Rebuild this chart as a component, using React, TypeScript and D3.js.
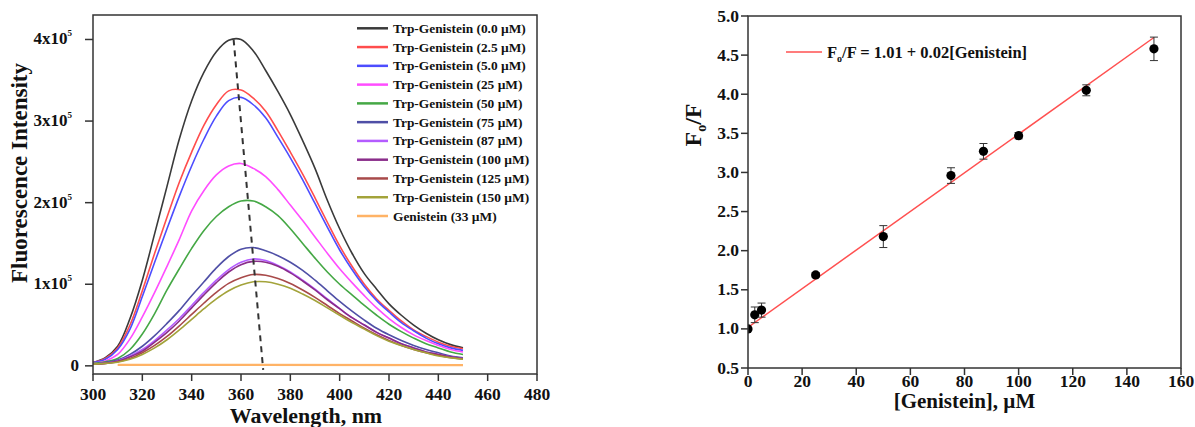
import React from 'react';
import * as d3 from 'd3';

// wavelength grid of the emission spectra (nm)
const WAVELENGTH = [300, 305, 310, 315, 320, 325, 330, 335, 340, 345, 350, 355, 360, 365, 370, 375,
  380, 385, 390, 395, 400, 405, 410, 415, 420, 425, 430, 435, 440, 445, 450];

// fluorescence intensity, in units of 10^5
const TRP_0 = [0.04, 0.1, 0.24, 0.58, 1.05, 1.62, 2.2, 2.78, 3.25, 3.6, 3.85, 3.99, 4.0, 3.86, 3.62, 3.36,
  3.08, 2.76, 2.42, 2.03, 1.68, 1.38, 1.13, 0.94, 0.76, 0.62, 0.5, 0.4, 0.32, 0.26, 0.22];
const TRP_2_5 = [0.04, 0.09, 0.22, 0.5, 0.92, 1.38, 1.82, 2.25, 2.62, 2.95, 3.2, 3.37, 3.38, 3.28, 3.12, 2.88,
  2.62, 2.35, 2.06, 1.76, 1.47, 1.22, 1.0, 0.82, 0.68, 0.55, 0.44, 0.36, 0.29, 0.24, 0.21];
const TRP_5 = [0.04, 0.08, 0.2, 0.45, 0.85, 1.27, 1.68, 2.08, 2.45, 2.78, 3.06, 3.25, 3.29, 3.2, 3.04, 2.8,
  2.55, 2.28, 1.99, 1.7, 1.42, 1.18, 0.97, 0.8, 0.66, 0.53, 0.43, 0.34, 0.27, 0.22, 0.19];
const TRP_25 = [0.03, 0.06, 0.14, 0.33, 0.6, 0.9, 1.22, 1.55, 1.9, 2.15, 2.34, 2.45, 2.48, 2.42, 2.32, 2.16,
  1.97, 1.78, 1.58, 1.38, 1.19, 1.02, 0.86, 0.71, 0.58, 0.47, 0.38, 0.31, 0.25, 0.2, 0.17];
const TRP_50 = [0.03, 0.05, 0.09, 0.2, 0.39, 0.64, 0.93, 1.19, 1.44, 1.66, 1.83, 1.95, 2.02, 2.02, 1.95, 1.84,
  1.68, 1.5, 1.32, 1.15, 1.0, 0.87, 0.74, 0.62, 0.51, 0.42, 0.34, 0.27, 0.22, 0.17, 0.14];
const TRP_75 = [0.02, 0.04, 0.07, 0.14, 0.24, 0.37, 0.52, 0.68, 0.86, 1.03, 1.2, 1.34, 1.43, 1.45, 1.41, 1.35,
  1.27, 1.17, 1.05, 0.92, 0.79, 0.67, 0.56, 0.46, 0.38, 0.31, 0.25, 0.2, 0.16, 0.12, 0.1];
const TRP_87 = [0.02, 0.035, 0.06, 0.12, 0.2, 0.31, 0.44, 0.58, 0.74, 0.9, 1.05, 1.18, 1.27, 1.31, 1.29, 1.23,
  1.15, 1.05, 0.94, 0.82, 0.7, 0.59, 0.5, 0.41, 0.34, 0.27, 0.22, 0.17, 0.14, 0.11, 0.09];
const TRP_100 = [0.02, 0.03, 0.055, 0.11, 0.18, 0.29, 0.41, 0.55, 0.71, 0.87, 1.02, 1.15, 1.24, 1.28, 1.27, 1.22,
  1.14, 1.04, 0.93, 0.81, 0.7, 0.59, 0.5, 0.41, 0.34, 0.27, 0.22, 0.17, 0.14, 0.11, 0.09];
const TRP_125 = [0.02, 0.03, 0.05, 0.09, 0.16, 0.25, 0.36, 0.49, 0.63, 0.77, 0.9, 1.01, 1.08, 1.12, 1.11, 1.07,
  1.01, 0.93, 0.84, 0.74, 0.64, 0.55, 0.46, 0.38, 0.31, 0.25, 0.2, 0.16, 0.13, 0.1, 0.085];
const TRP_150 = [0.02, 0.03, 0.045, 0.08, 0.14, 0.22, 0.32, 0.44, 0.57, 0.7, 0.82, 0.92, 0.99, 1.03, 1.03, 1.0,
  0.95, 0.88, 0.8, 0.71, 0.62, 0.53, 0.45, 0.37, 0.3, 0.25, 0.2, 0.16, 0.12, 0.1, 0.08];

// genistein alone, flat near zero
const GENISTEIN_WL = [310, 450];
const GENISTEIN_33 = [0.012, 0.01];

// dashed guide through the emission maxima
const PEAK_WL = [357, 369];
const PEAK_I = [4.0, -0.05];

const SPECTRA = [TRP_0, TRP_2_5, TRP_5, TRP_25, TRP_50, TRP_75, TRP_87, TRP_100, TRP_125, TRP_150];
const LEGEND_LABELS = [
  'Trp-Genistein (0.0 µM)', 'Trp-Genistein (2.5 µM)', 'Trp-Genistein (5.0 µM)', 'Trp-Genistein (25 µM)',
  'Trp-Genistein (50 µM)', 'Trp-Genistein (75 µM)', 'Trp-Genistein (87 µM)', 'Trp-Genistein (100 µM)',
  'Trp-Genistein (125 µM)', 'Trp-Genistein (150 µM)', 'Genistein (33 µM)',
];
const COLORS = ['#3a3a3a', '#ff4d4d', '#4d4dff', '#ff4dff', '#45a845', '#4f4fa6', '#b45cff', '#8a2d8a',
  '#a84a4a', '#a3a33a', '#ffb366'];

const WL_TICKS = [300, 320, 340, 360, 380, 400, 420, 440, 460, 480];
const INT_TICKS = [0, 1, 2, 3, 4];

// Stern-Volmer plot
const CONC = [0, 2.5, 5, 25, 50, 75, 87, 100, 125, 150];
const RATIO = [1.0, 1.18, 1.24, 1.69, 2.18, 2.96, 3.27, 3.47, 4.05, 4.58];
const RATIO_ERR = [0.0, 0.1, 0.09, 0.03, 0.14, 0.1, 0.1, 0.04, 0.07, 0.15];
const FIT_INTERCEPT = 1.02;
const FIT_SLOPE = 0.0247;
const FIT_RANGE = [0, 150];
const CONC_TICKS = [0, 20, 40, 60, 80, 100, 120, 140, 160];
const RATIO_TICKS = [0.5, 1.0, 1.5, 2.0, 2.5, 3.0, 3.5, 4.0, 4.5, 5.0];

const FONT = '"Liberation Serif", "Times New Roman", serif';
const AXIS = '#333';

// text that is a little wider than the font, like the scanned figure
const Wide = ({ x, y, k = 1.1, children, ...rest }: any) => (
  <text transform={`translate(${x},${y}) scale(${k},1)`} {...rest}>{children}</text>
);

const SpectraChart = () => {
  const left = 93, right = 537, top = 15, bottom = 374;
  const x = d3.scaleLinear().domain([300, 480]).range([left, right]);
  const y = d3.scaleLinear().domain([-0.1, 4.3]).range([bottom, top]);

  const line = d3.line<number>()
    .x((d, i) => x(WAVELENGTH[i]))
    .y((d) => y(d))
    .curve(d3.curveCatmullRom);

  const genLine = d3.line<number>()
    .x((d, i) => x(GENISTEIN_WL[i]))
    .y((d) => y(d))(GENISTEIN_33);

  const peakLine = d3.line<number>()
    .x((d, i) => x(PEAK_WL[i]))
    .y((d) => y(d))(PEAK_I);

  return (
    <g>
      <defs>
        <clipPath id="clipL">
          <rect x={left} y={top} width={right - left} height={bottom - top} />
        </clipPath>
      </defs>
      <g clipPath="url(#clipL)">
        {SPECTRA.map((s, i) => (
          <path key={i} d={line(s) || ''} fill="none" stroke={COLORS[i]} strokeWidth={1.6} />
        ))}
        <path d={genLine || ''} fill="none" stroke={COLORS[10]} strokeWidth={2.2} />
        <path d={peakLine || ''} fill="none" stroke="#333" strokeWidth={2} strokeDasharray="6,5" />
      </g>
      <rect x={left} y={top} width={right - left} height={bottom - top} fill="none" stroke={AXIS} strokeWidth={1.5} />
      {/* x axis */}
      {WL_TICKS.map((t) => (
        <g key={t}>
          <line x1={x(t)} x2={x(t)} y1={bottom} y2={bottom + 7} stroke={AXIS} strokeWidth={1.5} />
          <text x={x(t)} y={bottom + 26} textAnchor="middle" fontSize={17.5}>{t}</text>
        </g>
      ))}
      {/* y axis */}
      {INT_TICKS.map((t) => (
        <g key={t}>
          <line x1={left - 8} x2={left} y1={y(t)} y2={y(t)} stroke={AXIS} strokeWidth={1.5} />
          {t === 0 ? (
            <text x={left - 14} y={y(t) + 5} textAnchor="end" fontSize={17}>0</text>
          ) : (
            <text x={left - 21} y={y(t) + 5} textAnchor="end" fontSize={17}>
              {`${t}x10`}
              <tspan fontSize={9} dy={-8}>5</tspan>
            </text>
          )}
        </g>
      ))}
      <Wide x={306} y={423} k={1.07} textAnchor="middle" fontSize={20.5}>Wavelength, nm</Wide>
      <text transform="translate(27,173) rotate(-90)" textAnchor="middle" fontSize={23}>Fluorescence Intensity</text>
      {/* legend */}
      {LEGEND_LABELS.map((lab, i) => {
        const ly = 28.3 + i * 18.77;
        return (
          <g key={lab}>
            <line x1={357} x2={388} y1={ly} y2={ly} stroke={COLORS[i]} strokeWidth={2.5} />
            <text x={393} y={ly + 4.5} fontSize={13.4}>{lab}</text>
          </g>
        );
      })}
    </g>
  );
};

const SternVolmerChart = () => {
  const left = 748, right = 1181, top = 16, bottom = 368;
  const x = d3.scaleLinear().domain([0, 160]).range([left, right]);
  const y = d3.scaleLinear().domain([0.5, 5.0]).range([bottom, top]);

  const fit = d3.line<number>()
    .x((d) => x(d))
    .y((d) => y(FIT_INTERCEPT + FIT_SLOPE * d))(FIT_RANGE);

  return (
    <g>
      <defs>
        <clipPath id="clipR">
          <rect x={left} y={top} width={right - left} height={bottom - top} />
        </clipPath>
      </defs>
      <g clipPath="url(#clipR)">
        <path d={fit || ''} fill="none" stroke="#ff5050" strokeWidth={1.5} />
        {CONC.map((c, i) => (
          <g key={c}>
            {RATIO_ERR[i] > 0 && (
              <g stroke="#333" strokeWidth={1}>
                <line x1={x(c)} x2={x(c)} y1={y(RATIO[i] - RATIO_ERR[i])} y2={y(RATIO[i] + RATIO_ERR[i])} />
                <line x1={x(c) - 4} x2={x(c) + 4} y1={y(RATIO[i] - RATIO_ERR[i])} y2={y(RATIO[i] - RATIO_ERR[i])} />
                <line x1={x(c) - 4} x2={x(c) + 4} y1={y(RATIO[i] + RATIO_ERR[i])} y2={y(RATIO[i] + RATIO_ERR[i])} />
              </g>
            )}
            <circle cx={x(c)} cy={y(RATIO[i])} r={4.6} fill="#000" />
          </g>
        ))}
      </g>
      <rect x={left} y={top} width={right - left} height={bottom - top} fill="none" stroke={AXIS} strokeWidth={1.5} />
      {CONC_TICKS.map((t) => (
        <g key={t}>
          <line x1={x(t)} x2={x(t)} y1={bottom} y2={bottom + 7} stroke={AXIS} strokeWidth={1.5} />
          <text x={x(t)} y={bottom + 19} textAnchor="middle" fontSize={17.5}>{t}</text>
        </g>
      ))}
      {RATIO_TICKS.map((t) => (
        <g key={t}>
          <line x1={left - 7} x2={left} y1={y(t)} y2={y(t)} stroke={AXIS} strokeWidth={1.5} />
          <text x={left - 9} y={y(t) + 5.5} textAnchor="end" fontSize={17.5}>{t.toFixed(1)}</text>
        </g>
      ))}
      <text x={(left + right) / 2} y={408} textAnchor="middle" fontSize={21}>[Genistein], µM</text>
      <text transform="translate(701,125) rotate(-90)" textAnchor="middle" fontSize={24}>
        F<tspan fontSize={14} dy={5}>o</tspan><tspan dy={-5}>/F</tspan>
      </text>
      <line x1={786} x2={822} y1={52} y2={52} stroke="#ff5050" strokeWidth={1.5} />
      <text x={827} y={58} fontSize={16.5}>
        F<tspan fontSize={10} dy={4}>o</tspan><tspan dy={-4}>/F = 1.01 + 0.02[Genistein]</tspan>
      </text>
    </g>
  );
};

export default function App() {
  return (
    <svg
      width={1195}
      height={427}
      style={{ position: 'absolute', left: 0, top: 0, background: '#fff' }}
      fontFamily={FONT}
      fontWeight="bold"
      fill="#111"
    >
      <SpectraChart />
      <SternVolmerChart />
    </svg>
  );
}
